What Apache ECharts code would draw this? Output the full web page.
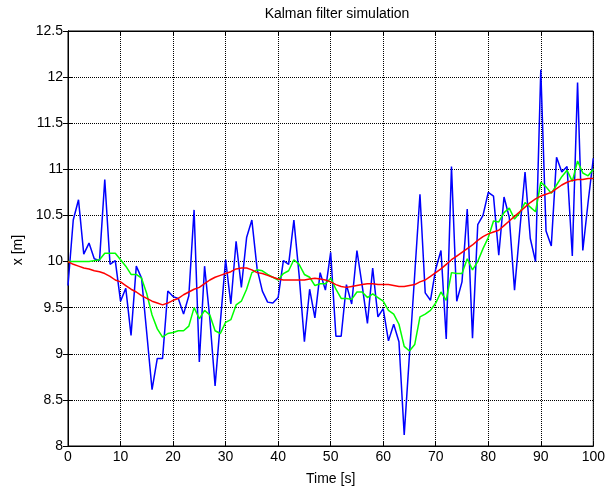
<!DOCTYPE html>
<html>
<head>
<meta charset="utf-8">
<script src="https://cdn.jsdelivr.net/npm/echarts@6/dist/echarts.min.js"></script>
<style>
html,body{margin:0;padding:0;background:#fff;}
#chart{width:608px;height:495px;}
</style>
</head>
<body>
<div id="chart"></div>
<script>
const titleText = "Kalman filter simulation";
const xName = "Time [s]";
const yName = "x [m]";

const time = [0,1,2,3,4,5,6,7,8,9,10,11,12,13,14,15,16,17,18,19,20,21,22,23,24,25,26,27,28,29,30,31,32,33,34,35,36,37,38,39,40,41,42,43,44,45,46,47,48,49,50,51,52,53,54,55,56,57,58,59,60,61,62,63,64,65,66,67,68,69,70,71,72,73,74,75,76,77,78,79,80,81,82,83,84,85,86,87,88,89,90,91,92,93,94,95,96,97,98,99,100];

const measured = [9.74,10.45,10.67,10.08,10.2,10.03,10.01,10.89,9.97,10.01,
9.57,9.71,9.2,9.95,9.82,9.22,8.61,8.95,8.95,9.68,
9.62,9.6,9.43,9.63,10.56,8.91,9.95,9.38,8.65,9.34,
10.02,9.54,10.22,9.72,10.26,10.45,9.92,9.68,9.56,9.55,
9.61,10.01,9.97,10.45,9.85,9.13,9.7,9.39,9.88,9.69,
10.1,9.19,9.19,9.75,9.54,10.12,9.74,9.33,9.93,9.4,
9.49,9.14,9.32,9.13,8.12,8.99,9.86,10.73,9.66,9.58,
9.92,10.12,9.16,11.03,9.57,9.78,10.57,9.17,10.4,10.5,
10.75,10.71,10.07,10.7,10.48,9.69,10.34,10.97,10.25,10.0,
12.08,10.33,10.17,11.13,10.97,11.03,10.06,11.94,10.12,10.64,11.12];

const estimate = [10.0,10.0,10.0,10.0,10.0,10.01,10.02,10.09,10.09,10.09,
10.02,9.95,9.86,9.86,9.82,9.65,9.42,9.27,9.18,9.22,
9.23,9.25,9.25,9.3,9.5,9.38,9.47,9.42,9.25,9.22,
9.34,9.37,9.53,9.57,9.7,9.88,9.91,9.9,9.86,9.83,
9.8,9.87,9.9,10.02,9.97,9.86,9.83,9.74,9.76,9.76,
9.82,9.7,9.6,9.6,9.59,9.67,9.67,9.61,9.65,9.61,
9.57,9.47,9.43,9.32,9.08,9.03,9.1,9.4,9.43,9.47,
9.55,9.67,9.58,9.88,9.87,9.87,10.03,9.91,10.0,10.14,
10.26,10.44,10.43,10.53,10.58,10.46,10.53,10.64,10.59,10.54,
10.86,10.81,10.74,10.83,10.92,10.99,10.87,11.09,10.96,10.93,11.0];

const truth = [10.0,9.97,9.95,9.93,9.92,9.9,9.89,9.87,9.84,9.8,
9.78,9.74,9.7,9.67,9.63,9.6,9.57,9.55,9.53,9.55,
9.58,9.6,9.64,9.67,9.7,9.72,9.76,9.8,9.83,9.85,
9.87,9.89,9.92,9.93,9.93,9.91,9.88,9.87,9.85,9.83,
9.81,9.8,9.8,9.8,9.8,9.8,9.81,9.82,9.81,9.8,
9.78,9.75,9.73,9.72,9.73,9.74,9.75,9.76,9.76,9.75,
9.75,9.75,9.74,9.73,9.73,9.74,9.75,9.78,9.8,9.84,
9.88,9.92,9.97,10.02,10.06,10.1,10.14,10.18,10.23,10.27,
10.3,10.32,10.34,10.39,10.44,10.49,10.54,10.59,10.64,10.68,
10.71,10.73,10.75,10.79,10.83,10.86,10.88,10.89,10.89,10.9,10.9];

const xTicks = {min: 0, max: 100, interval: 10};
const yTicks = {min: 8, max: 12.5, interval: 0.5};

function pairs(vals){ return time.map((t,i)=>[t, vals[i]]); }

const FONT = "Liberation Sans, Arial, Helvetica, sans-serif";
const chart = echarts.init(document.getElementById('chart'), null, {renderer:'canvas'});

const gridLine = {show:true, lineStyle:{color:'#000', type:[1,1], width:1}};
const axisLineStyle = {show:true, lineStyle:{color:'#000', width:1}};

chart.setOption({
  animation:false,
  backgroundColor:'#fff',
  title:{
    text:titleText, left:332, top:2, textAlign:'center',
    textStyle:{fontFamily:FONT, fontSize:14, fontWeight:'normal', color:'#000'}
  },
  grid:{left:68, right:12, top:31, bottom:49, show:true, borderColor:'#000', borderWidth:1, backgroundColor:'#fff'},
  xAxis:[{
    type:'value', min:xTicks.min, max:xTicks.max, interval:xTicks.interval,
    position:'bottom',
    name:xName, nameLocation:'middle', nameGap:26,
    nameTextStyle:{fontFamily:FONT, fontSize:14, color:'#000'},
    axisLine:axisLineStyle,
    axisTick:{show:true, inside:true, length:5, lineStyle:{color:'#000'}},
    axisLabel:{fontFamily:FONT, fontSize:14, color:'#000', margin:4},
    splitLine:gridLine
  },{
    type:'value', min:xTicks.min, max:xTicks.max, interval:xTicks.interval,
    position:'top',
    axisLine:axisLineStyle,
    axisTick:{show:true, inside:true, length:5, lineStyle:{color:'#000'}},
    axisLabel:{show:false}, splitLine:{show:false}
  }],
  yAxis:[{
    type:'value', min:yTicks.min, max:yTicks.max, interval:yTicks.interval,
    position:'left',
    axisLine:axisLineStyle,
    axisTick:{show:true, inside:true, length:5, lineStyle:{color:'#000'}},
    axisLabel:{fontFamily:FONT, fontSize:14, color:'#000', margin:5},
    splitLine:gridLine
  },{
    type:'value', min:yTicks.min, max:yTicks.max, interval:yTicks.interval,
    position:'right',
    axisLine:axisLineStyle,
    axisTick:{show:true, inside:true, length:5, lineStyle:{color:'#000'}},
    axisLabel:{show:false}, splitLine:{show:false}
  }],
  graphic:[{
    type:'text', x:18, y:250, rotation:Math.PI/2,
    style:{text:yName, fontFamily:FONT, fontSize:14, fill:'#000', textAlign:'center', textVerticalAlign:'middle'}
  }],
  series:[
    {type:'line', data:pairs(measured), showSymbol:false, symbol:'none', lineStyle:{color:'#0000ff', width:1.5}, itemStyle:{color:'#0000ff'}, z:2},
    {type:'line', data:pairs(estimate), showSymbol:false, symbol:'none', lineStyle:{color:'#00ff00', width:1.5}, itemStyle:{color:'#00ff00'}, z:3},
    {type:'line', data:pairs(truth), showSymbol:false, symbol:'none', lineStyle:{color:'#ff0000', width:1.5}, itemStyle:{color:'#ff0000'}, z:4}
  ]
});
</script>
</body>
</html>
